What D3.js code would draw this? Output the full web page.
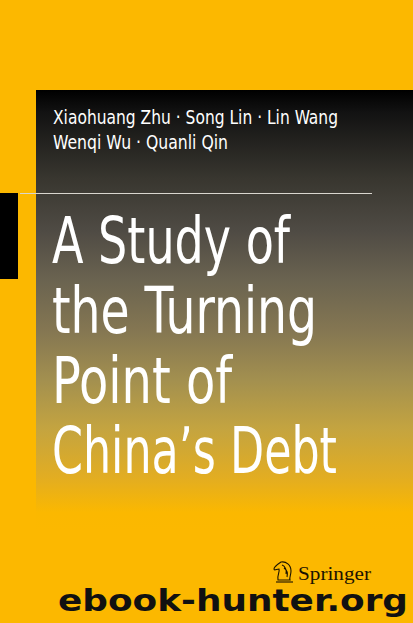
<!DOCTYPE html>
<html>
<head>
<meta charset="utf-8">
<script src="https://d3js.org/d3.v7.min.js"></script>
<style>
  html, body { margin: 0; padding: 0; background: #fcb800; }
  svg { display: block; }
  .narrow { font-family: "Liberation Sans Narrow", "DejaVu Sans Condensed", "DejaVu Sans", sans-serif; font-stretch: condensed; fill: #ffffff; }
</style>
</head>
<body>
<svg width="413" height="623"></svg>
<script>
const authorLines = ["Xiaohuang Zhu \u00b7 Song Lin \u00b7 Lin Wang", "Wenqi Wu \u00b7 Quanli Qin"]
const titleLines = ["A Study of", "the Turning", "Point of", "China\u2019s Debt"]
const publisher = ["Springer"]
const watermark = ["ebook-hunter.org"]

// measured line widths on the cover (layout only)
const authorWidths = [285, 175]
const titleWidths = [238, 265, 180, 285]

const W = 413, H = 623
const yellow = "#fcb800"
const svg = d3.select("svg")

svg.append("rect").attr("width", W).attr("height", H).attr("fill", yellow)

// gradient panel
const grad = svg.append("defs").append("linearGradient")
  .attr("id", "panel").attr("x1", 0).attr("y1", 0).attr("x2", 0).attr("y2", 1)
const stops = [
  [0, "#000000"], [0.05, "#121212"], [0.2, "#38362f"], [0.32, "#4f4b44"],
  [0.43, "#6a6350"], [0.55, "#857752"], [0.66, "#a3904f"], [0.77, "#c4a440"],
  [0.88, "#e2ad22"], [0.96, "#fbb800"], [1, yellow]
]
grad.selectAll("stop").data(stops).enter().append("stop")
  .attr("offset", d => d[0]).attr("stop-color", d => d[1])

svg.append("rect").attr("x", 36).attr("y", 90).attr("width", W - 36).attr("height", 440)
  .attr("fill", "url(#panel)")

// black tab and rule
svg.append("rect").attr("x", 0).attr("y", 193).attr("width", 18).attr("height", 86).attr("fill", "#000")
svg.append("line").attr("x1", 20).attr("x2", 372).attr("y1", 193.5).attr("y2", 193.5)
  .attr("stroke", "#d9d6cf").attr("stroke-width", 1.2)

// authors
const ya = d3.scaleLinear().domain([0, 1]).range([124, 149])
svg.selectAll(".author").data(authorLines).enter().append("text")
  .attr("class", "narrow author")
  .attr("x", 53).attr("y", (d, i) => ya(i))
  .attr("font-size", 20)
  .attr("textLength", (d, i) => authorWidths[i]).attr("lengthAdjust", "spacingAndGlyphs")
  .text(d => d)

// title
const yt = d3.scaleLinear().domain([0, 3]).range([263, 473])
svg.selectAll(".title").data(titleLines).enter().append("text")
  .attr("class", "narrow title")
  .attr("x", 52).attr("y", (d, i) => yt(i))
  .attr("font-size", 64)
  .attr("textLength", (d, i) => titleWidths[i]).attr("lengthAdjust", "spacingAndGlyphs")
  .text(d => d)

// springer logo
const logo = svg.append("g").attr("transform", "translate(273,561)")
  .attr("fill", "none").attr("stroke", "#1a1200").attr("stroke-width", 1.1)
logo.append("path").attr("d", "M5,19 C4,14 7,11 6,8 C4,8 1,10 1,8 C1,6 5,3 8,1 C13,0 18,4 18,10 C18,14 16,17 17,19 Z")
logo.append("path").attr("d", "M9,4 C12,5 14,9 13,13 M11,7 C14,9 15,12 14,16")
logo.append("path").attr("d", "M3,21 L20,21")
svg.selectAll(".pub").data(publisher).enter().append("text")
  .attr("x", 298).attr("y", 580)
  .attr("font-family", "'Liberation Serif', 'DejaVu Serif', serif")
  .attr("font-size", 19).attr("fill", "#1a1200")
  .attr("textLength", 73).attr("lengthAdjust", "spacingAndGlyphs")
  .text(d => d)

// watermark
svg.selectAll(".wm").data(watermark).enter().append("text")
  .attr("x", 58).attr("y", 611)
  .attr("font-family", "'DejaVu Sans', Verdana, sans-serif")
  .attr("font-weight", "bold").attr("font-size", 30).attr("fill", "#111")
  .attr("textLength", 350).attr("lengthAdjust", "spacingAndGlyphs")
  .text(d => d)
</script>
</body>
</html>
